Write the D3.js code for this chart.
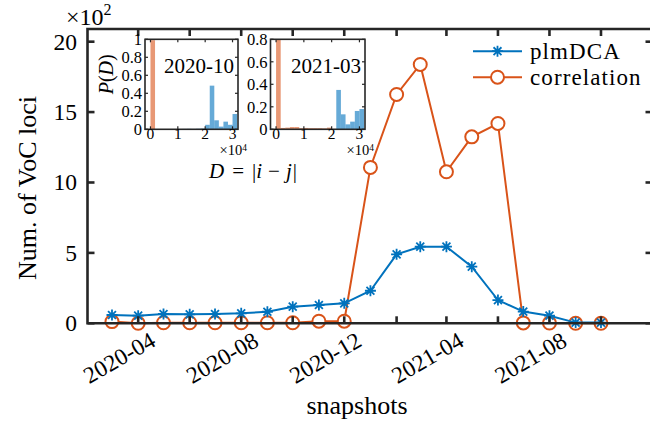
<!DOCTYPE html>
<html><head><meta charset="utf-8">
<script src="https://cdn.jsdelivr.net/npm/d3@7/dist/d3.min.js"></script>
<style>html,body{margin:0;padding:0;background:#fff;}svg{display:block;}text{font-family:"Liberation Serif","Times New Roman",serif;fill:#000;}</style>
</head><body>
<svg id="chart" width="650" height="426"></svg>
<script>
// ---------- data ----------
const snapshots = ["2020-03","2020-04","2020-05","2020-06","2020-07","2020-08","2020-09","2020-10","2020-11","2020-12",
                   "2021-01","2021-02","2021-03","2021-04","2021-05","2021-06","2021-07","2021-08","2021-09","2021-10"];
const plmDCA      = [0.59,0.54,0.66,0.64,0.66,0.71,0.82,1.18,1.30,1.42, 2.31,4.90,5.44,5.44,4.02,1.65,0.83,0.54,0.05,0.05];
const correlation = [0.12,0.00,0.04,0.04,0.04,0.04,0.04,0.04,0.15,0.15, 11.07,16.25,18.38,10.76,13.24,14.19,0.03,0.02,0.00,0.00];
const yTicks = [0,5,10,15,20];
const xTickDates = ["2020-04","2020-06","2020-08","2020-10","2020-12","2021-02","2021-04","2021-06","2021-08","2021-10"];
const xTickLabels = ["2020-04","2020-08","2020-12","2021-04","2021-08"];
const seriesNames = ["plmDCA","correlation"];

// inset histograms: bin edges in units of 10^4
const binEdges = d3.range(20).map(k => k * 0.16667);
const inset1Label = "2020-10";
const inset1Corr = [0.99,0,0,0,0,0,0,0,0,0,0,0,0,0,0,0,0,0,0];
const inset1DCA  = [0,0,0,0,0.002,0.003,0.002,0.004,0.005,0.004,0.006,0.008,0.05,0.485,0.10,0.03,0.085,0.05,0.17];
const inset2Label = "2021-03";
const inset2Corr = [0.85,0.012,0.015,0.02,0.02,0.01,0.012,0.01,0.01,0.01,0.008,0.015,0.004,0,0,0,0,0,0];
const inset2DCA  = [0,0,0,0,0,0,0,0,0,0,0,0,0,0.35,0.133,0.044,0.068,0.163,0.18];
const inset1YTicks = [0,0.2,0.4,0.6,0.8,1];
const inset2YTicks = [0,0.2,0.4,0.6,0.8];
const insetXTicks = [0,1,2,3];

// ---------- styles ----------
const BLUE = "#0072BD", RED = "#D95319", AX = "#262626";
const svg = d3.select("#chart");
svg.append("rect").attr("width",650).attr("height",426).attr("fill","#fff");

const parse = d3.timeParse("%Y-%m");
const x = d3.scaleTime().domain([parse("2020-02"), parse("2021-12")]).range([87.5, 652.5]);
const y = d3.scaleLinear().domain([0, 20.9]).range([323.3, 29]);

const g = svg.append("g");

// ---- series (correlation first, plmDCA on top)
const line = d3.line().x((d,i)=>x(parse(snapshots[i]))).y(d=>y(d));
g.append("path").datum(correlation).attr("d", line).attr("fill","none").attr("stroke",RED).attr("stroke-width",2);

function circle(sel, cx, cy){
  sel.append("circle").attr("cx",cx).attr("cy",cy).attr("r",6.5).attr("fill","#fff").attr("stroke",RED).attr("stroke-width",2);
}
function star(sel, cx, cy){
  const r = 5.5, d = r*0.72;
  const p = `M${cx-r},${cy}H${cx+r}M${cx},${cy-r}V${cy+r}M${cx-d},${cy-d}L${cx+d},${cy+d}M${cx-d},${cy+d}L${cx+d},${cy-d}`;
  sel.append("path").attr("d",p).attr("stroke",BLUE).attr("stroke-width",1.8).attr("fill","none");
}
correlation.forEach((v,i)=>circle(g, x(parse(snapshots[i])), y(v)));
g.append("path").datum(plmDCA).attr("d", line).attr("fill","none").attr("stroke",BLUE).attr("stroke-width",2);
plmDCA.forEach((v,i)=>star(g, x(parse(snapshots[i])), y(v)));

// ---- axes
const x0 = 87.5, x1 = 652.5, yb = y(0), yt = 29;
const ax = svg.append("g");
ax.append("path").attr("d",`M${x0},${yt}V${yb}H${x1}V${yt}Z`).attr("fill","none").attr("stroke",AX).attr("stroke-width",2.6);
xTickDates.forEach(s=>{
  const xx = x(parse(s));
  ax.append("line").attr("x1",xx).attr("x2",xx).attr("y1",yb).attr("y2",yb-7).attr("stroke",AX).attr("stroke-width",2.6);
  ax.append("line").attr("x1",xx).attr("x2",xx).attr("y1",yt).attr("y2",yt+7).attr("stroke",AX).attr("stroke-width",2.6);
});
yTicks.forEach(t=>{
  const yy = y(t);
  ax.append("line").attr("x1",x0).attr("x2",x0+7).attr("y1",yy).attr("y2",yy).attr("stroke",AX).attr("stroke-width",2.6);
  ax.append("line").attr("x1",x1).attr("x2",x1-7).attr("y1",yy).attr("y2",yy).attr("stroke",AX).attr("stroke-width",2.6);
  ax.append("text").attr("x",77).attr("y",yy).attr("dy","0.34em").attr("text-anchor","end").attr("font-size",23.5).text(t);
});
xTickLabels.forEach(s=>{
  const xx = x(parse(s));
  ax.append("text").attr("transform",`translate(${xx+19},345) rotate(-30)`).attr("text-anchor","end").attr("font-size",23.5).text(s);
});
const e = ax.append("text").attr("x",66).attr("y",25).attr("font-size",24);
e.append("tspan").text("\u00d710");
e.append("tspan").attr("font-size",16).attr("dy",-10).text("2");
ax.append("text").attr("transform","translate(36,188) rotate(-90)").attr("text-anchor","middle").attr("font-size",26).text("Num. of VoC loci");
ax.append("text").attr("x",357).attr("y",414).attr("text-anchor","middle").attr("font-size",26).text("snapshots");

// ---- legend
const lg = svg.append("g");
[[BLUE,51.2],[RED,77.2]].forEach(([c,ly],i)=>{
  lg.append("line").attr("x1",473).attr("x2",522).attr("y1",ly).attr("y2",ly).attr("stroke",c).attr("stroke-width",2);
  if(i===0) star(lg,497.5,ly); else circle(lg,497.5,ly);
  lg.append("text").attr("x",530).attr("y",ly+7.5).attr("font-size",23).attr("letter-spacing",1.1).text(seriesNames[i]);
});

// ---- insets
function inset(left, right, top, bottom, ymax, yticks, corr, dca, label, showYLabel){
  const ig = svg.append("g");
  const xs = d3.scaleLinear().domain([-0.2, 3.2]).range([left, right]);
  const ys = d3.scaleLinear().domain([0, ymax]).range([bottom, top]);
  ig.append("rect").attr("x",left).attr("y",top).attr("width",right-left).attr("height",bottom-top).attr("fill","#fff");
  const clipId = "clip"+Math.round(left);
  ig.append("clipPath").attr("id",clipId).append("rect").attr("x",left).attr("y",top).attr("width",right-left).attr("height",bottom-top);
  const bars = ig.append("g").attr("clip-path",`url(#${clipId})`);
  [[corr,RED],[dca,BLUE]].forEach(([vals,c])=>{
    vals.forEach((v,k)=>{
      if(v<=0) return;
      bars.append("rect").attr("x",xs(binEdges[k])).attr("width",xs(binEdges[k+1])-xs(binEdges[k]))
        .attr("y",ys(v)).attr("height",ys(0)-ys(v)).attr("fill",c).attr("fill-opacity",0.6);
    });
  });
  ig.append("rect").attr("x",left).attr("y",top).attr("width",right-left).attr("height",bottom-top)
    .attr("fill","none").attr("stroke",AX).attr("stroke-width",1.6);
  yticks.forEach(t=>{
    const yy = ys(t);
    ig.append("line").attr("x1",left).attr("x2",left+3).attr("y1",yy).attr("y2",yy).attr("stroke",AX).attr("stroke-width",1.2);
    ig.append("line").attr("x1",right).attr("x2",right-3).attr("y1",yy).attr("y2",yy).attr("stroke",AX).attr("stroke-width",1.2);
    ig.append("text").attr("x",left-3).attr("y",yy).attr("dy","0.35em").attr("text-anchor","end").attr("font-size",16.5).text(t);
  });
  insetXTicks.forEach(t=>{
    const xx = xs(t);
    ig.append("line").attr("x1",xx).attr("x2",xx).attr("y1",bottom).attr("y2",bottom-3).attr("stroke",AX).attr("stroke-width",1.2);
    ig.append("line").attr("x1",xx).attr("x2",xx).attr("y1",top).attr("y2",top+3).attr("stroke",AX).attr("stroke-width",1.2);
    ig.append("text").attr("x",xx).attr("y",bottom+9.5).attr("text-anchor","middle").attr("font-size",15.5).text(t);
  });
  const m = ig.append("text").attr("x",right+9).attr("y",bottom+26).attr("text-anchor","end").attr("font-size",14.5);
  m.append("tspan").text("\u00d710");
  m.append("tspan").attr("font-size",9.5).attr("dy",-4.5).text("4");
  ig.append("text").attr("x",right-4).attr("y",top+34).attr("text-anchor","end").attr("font-size",21).text(label);
  if(showYLabel){
    const t = ig.append("text").attr("transform",`translate(${left-32},${(top+bottom)/2-10}) rotate(-90)`).attr("text-anchor","middle").attr("font-size",20);
    t.append("tspan").attr("font-style","italic").text("P");
    t.append("tspan").text("(");
    t.append("tspan").attr("font-style","italic").text("D");
    t.append("tspan").text(")");
  }
}
inset(145, 238, 39.3, 129.3, 1, inset1YTicks, inset1Corr, inset1DCA, inset1Label, true);
inset(270.5, 365, 39.3, 129.3, 0.8, inset2YTicks, inset2Corr, inset2DCA, inset2Label, false);
const dl = svg.append("text").attr("x",253).attr("y",178).attr("text-anchor","middle").attr("font-size",21);
dl.append("tspan").attr("font-style","italic").text("D");
dl.append("tspan").attr("dx",8).text("=");
dl.append("tspan").attr("dx",8).text("|");
dl.append("tspan").attr("font-style","italic").text("i");
dl.append("tspan").attr("dx",6).text("\u2212");
dl.append("tspan").attr("dx",6).attr("font-style","italic").text("j");
dl.append("tspan").attr("dx",1).text("|");
</script>
</body></html>
